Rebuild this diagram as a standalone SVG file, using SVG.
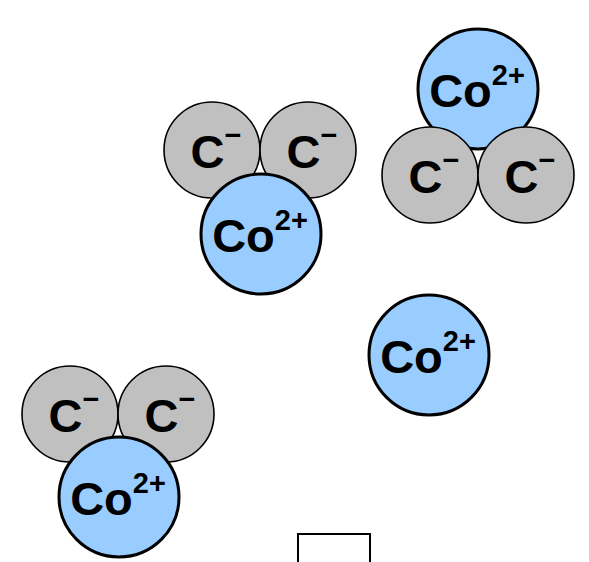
<svg xmlns="http://www.w3.org/2000/svg" width="589" height="562" viewBox="0 0 589 562">
<style>
.c{fill:#C0C0C0;stroke:#000;stroke-width:1.6}
.co{fill:#99CCFF;stroke:#000;stroke-width:3}
.t{font-family:"Liberation Sans",Arial,sans-serif;font-weight:bold;font-size:47px;fill:#000;text-anchor:middle}
.s{font-size:29px}
</style>
<rect width="589" height="562" fill="#fff"/>
<g id="cluster1">
<g id="c1a"><circle class="c" cx="212" cy="150" r="48"/><text class="t" x="216" y="168">C<tspan class="s" dy="-23">−</tspan></text></g>
<g id="c1b"><circle class="c" cx="308" cy="150" r="48"/><text class="t" x="312" y="168">C<tspan class="s" dy="-23">−</tspan></text></g>
<g id="co1"><circle class="co" cx="261" cy="234" r="60"/><text class="t" x="260" y="252">Co<tspan class="s" dy="-22">2+</tspan></text></g>
</g>
<g id="cluster2">
<g id="co2"><circle class="co" cx="478" cy="89" r="60"/><text class="t" x="477" y="107">Co<tspan class="s" dy="-22">2+</tspan></text></g>
<g id="c2a"><circle class="c" cx="430" cy="175" r="48"/><text class="t" x="434" y="193">C<tspan class="s" dy="-23">−</tspan></text></g>
<g id="c2b"><circle class="c" cx="526" cy="175" r="48"/><text class="t" x="530" y="193">C<tspan class="s" dy="-23">−</tspan></text></g>
</g>
<g id="co3"><circle class="co" cx="429" cy="355" r="60"/><text class="t" x="428" y="373">Co<tspan class="s" dy="-22">2+</tspan></text></g>
<g id="cluster4">
<g id="c4a"><circle class="c" cx="70" cy="414" r="48"/><text class="t" x="74" y="432">C<tspan class="s" dy="-23">−</tspan></text></g>
<g id="c4b"><circle class="c" cx="166" cy="414" r="48"/><text class="t" x="170" y="432">C<tspan class="s" dy="-23">−</tspan></text></g>
<g id="co4"><circle class="co" cx="119" cy="497" r="60"/><text class="t" x="118" y="515">Co<tspan class="s" dy="-22">2+</tspan></text></g>
</g>
<g id="box"><rect x="298" y="534" width="72" height="40" fill="#fff" stroke="#000" stroke-width="2"/></g>
</svg>
